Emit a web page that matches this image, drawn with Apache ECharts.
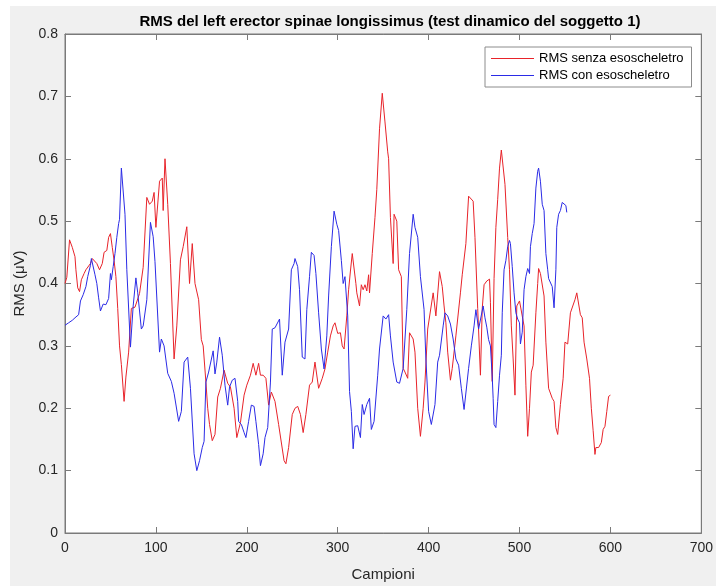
<!DOCTYPE html>
<html>
<head>
<meta charset="utf-8">
<script src="https://cdn.jsdelivr.net/npm/echarts@6/dist/echarts.min.js"></script>
<style>
html, body { margin: 0; padding: 0; background: #fff; }
#chart { width: 716px; height: 587px; }
</style>
</head>
<body>
<div id="chart"></div>
<script>
// campioni / valori RMS
var redIdx = [0, 2, 5, 8, 11, 12, 14, 16, 18, 21, 23, 25, 28, 30, 32, 35, 38, 41, 43, 46, 48, 50, 52, 54, 56, 58, 60, 62, 65, 67, 70, 73, 77, 82, 86, 90, 93, 96, 98, 100,
    104, 107, 108, 110, 113, 116, 118, 120, 123, 127, 130, 134, 137, 140, 143, 147, 150, 152, 155, 157, 159, 162, 165, 168, 171, 175, 179, 182, 186, 189,
    193, 197, 200, 204, 207, 210, 213, 215, 218, 221, 222, 224, 227, 231, 235, 241, 243, 246, 250, 253, 256, 259, 262, 265, 269, 272, 275, 279, 283, 286,
    289, 292, 295, 297, 300, 303, 305, 307, 310, 312, 314, 316, 318, 320, 321, 324, 326, 328, 330, 332, 334, 335, 338, 341, 343, 346, 349, 352, 355, 356,
    358, 361, 362, 365, 367, 370, 372, 374, 377, 379, 381, 383, 385, 388, 391, 394, 396, 399, 401, 405, 408, 412, 415, 417, 419, 421, 424, 426, 430, 435,
    437, 439, 441, 444, 446, 449, 451, 454, 457, 459, 461, 464, 467, 468, 470, 472, 474, 476, 478, 480, 482, 484, 487, 489, 491, 493, 495, 497, 500, 502,
    505, 507, 509, 511, 513, 515, 518, 520, 521, 523, 525, 527, 529, 532, 533, 536, 538, 540, 542, 545, 548, 550, 553, 556, 558, 561, 563, 565, 567, 569,
    571, 574, 577, 579, 581, 583, 584, 587, 590, 592, 594, 596, 598, 600];
var redRms = [0.40, 0.41, 0.47, 0.458, 0.443, 0.422, 0.393, 0.387, 0.406, 0.416, 0.422, 0.422, 0.432, 0.44, 0.443, 0.432, 0.422, 0.432, 0.45, 0.453, 0.474, 0.48, 0.458, 0.437, 0.411, 0.36, 0.30, 0.27, 0.211, 0.25, 0.29, 0.36, 0.362, 0.384, 0.426, 0.538, 0.527, 0.532, 0.546, 0.49,
    0.564, 0.569, 0.517, 0.600, 0.527, 0.432, 0.432, 0.279, 0.332, 0.438, 0.459, 0.491, 0.40, 0.464, 0.40, 0.374, 0.31, 0.30, 0.242, 0.20, 0.174, 0.148, 0.158, 0.218, 0.232, 0.261, 0.24, 0.234, 0.20, 0.153,
    0.177, 0.221, 0.237, 0.253, 0.272, 0.253, 0.272, 0.253, 0.253, 0.248, 0.245, 0.205, 0.226, 0.211, 0.174, 0.116, 0.111, 0.137, 0.19, 0.20, 0.203, 0.19, 0.161, 0.19, 0.237, 0.242, 0.274, 0.232, 0.248, 0.263,
    0.29, 0.316, 0.332, 0.337, 0.32, 0.321, 0.30, 0.295, 0.348, 0.39, 0.42, 0.448, 0.448, 0.40, 0.385, 0.364, 0.398, 0.39, 0.398, 0.388, 0.414, 0.385, 0.448, 0.506, 0.551, 0.648, 0.705, 0.659, 0.611, 0.60,
    0.506, 0.432, 0.511, 0.50, 0.422, 0.411, 0.264, 0.258, 0.248, 0.321, 0.324, 0.311, 0.29, 0.20, 0.155, 0.20, 0.242, 0.327, 0.327, 0.385, 0.348, 0.419, 0.395, 0.364, 0.337, 0.29, 0.245, 0.264, 0.316, 0.385,
    0.414, 0.417, 0.464, 0.54, 0.543, 0.532, 0.474, 0.36, 0.253, 0.36, 0.398, 0.404, 0.407, 0.37, 0.243, 0.408, 0.49, 0.535, 0.585, 0.614, 0.611, 0.559, 0.474, 0.422, 0.332, 0.279, 0.221, 0.364, 0.372, 0.369,
    0.332, 0.237, 0.155, 0.20, 0.258, 0.269, 0.353, 0.40, 0.424, 0.416, 0.419, 0.38, 0.306, 0.232, 0.235, 0.216, 0.211, 0.169, 0.158, 0.206, 0.248, 0.306, 0.303, 0.353, 0.356, 0.374, 0.385, 0.387, 0.35, 0.345,
    0.306, 0.279, 0.248, 0.20, 0.164, 0.126, 0.137, 0.137, 0.145, 0.166, 0.171, 0.195, 0.219, 0.221];

var blueIdx = [0, 4, 8, 11, 13, 15, 17, 20, 21, 23, 25, 28, 29, 31, 33, 35, 37, 39, 40, 42, 45, 48, 50, 51, 53, 55, 57, 59, 60, 62, 66, 68, 72, 75, 78, 80, 84, 86, 90, 94,
    97, 99, 101, 104, 106, 109, 113, 117, 120, 125, 128, 131, 135, 138, 142, 145, 148, 151, 153, 155, 158, 160, 163, 165, 167, 170, 173, 176, 179, 181,
    184, 187, 190, 191, 194, 197, 199, 202, 205, 208, 210, 213, 215, 218, 220, 223, 226, 228, 231, 233, 236, 239, 242, 244, 246, 249, 252, 253, 256, 258,
    261, 264, 266, 269, 271, 274, 276, 279, 282, 285, 288, 290, 293, 296, 299, 301, 304, 306, 308, 311, 313, 315, 317, 319, 322, 325, 327, 329, 332, 335,
    337, 340, 344, 346, 350, 353, 356, 358, 361, 365, 368, 372, 376, 379, 383, 385, 388, 391, 395, 397, 400, 403, 407, 410, 412, 416, 418, 421, 424, 427,
    430, 433, 436, 439, 441, 444, 447, 450, 452, 455, 457, 460, 462, 464, 466, 468, 470, 471, 472, 474, 476, 478, 480, 481, 483, 485, 487, 489, 490, 492,
    494, 496, 498, 500, 501, 503, 505, 507, 509, 511, 512, 514, 516, 518, 520, 521, 523, 525, 527, 529, 531, 532, 534, 536, 538, 540, 541, 543, 545, 547,
    549, 551, 552];
var blueRms = [0.333, 0.337, 0.341, 0.345, 0.343, 0.35, 0.372, 0.382, 0.379, 0.395, 0.411, 0.429, 0.44, 0.437, 0.414, 0.40, 0.377, 0.356, 0.355, 0.367, 0.366, 0.376, 0.416, 0.406, 0.427, 0.448, 0.474, 0.496, 0.503, 0.585, 0.511, 0.422, 0.298, 0.364, 0.409, 0.385, 0.327, 0.332, 0.374, 0.498,
    0.475, 0.435, 0.438, 0.29, 0.311, 0.30, 0.256, 0.243, 0.224, 0.179, 0.195, 0.274, 0.282, 0.232, 0.127, 0.10, 0.116, 0.137, 0.147, 0.242, 0.258, 0.261, 0.292, 0.255, 0.274, 0.314, 0.285, 0.237, 0.205, 0.234,
    0.245, 0.248, 0.211, 0.179, 0.174, 0.161, 0.153, 0.179, 0.205, 0.203, 0.179, 0.142, 0.108, 0.127, 0.153, 0.169, 0.242, 0.327, 0.329, 0.327, 0.343, 0.253, 0.306, 0.308, 0.327, 0.422, 0.432, 0.44, 0.427, 0.39,
    0.282, 0.279, 0.358, 0.411, 0.45, 0.445, 0.416, 0.353, 0.295, 0.263, 0.316, 0.38, 0.459, 0.516, 0.495, 0.485, 0.437, 0.40, 0.411, 0.348, 0.227, 0.195, 0.135, 0.171, 0.172, 0.153, 0.206, 0.19, 0.206, 0.216,
    0.166, 0.179, 0.253, 0.295, 0.348, 0.343, 0.35, 0.316, 0.274, 0.242, 0.24, 0.264, 0.358, 0.448, 0.511, 0.49, 0.474, 0.411, 0.358, 0.279, 0.195, 0.174, 0.206, 0.274, 0.285, 0.332, 0.353, 0.348, 0.335, 0.311,
    0.279, 0.269, 0.232, 0.198, 0.198, 0.264, 0.30, 0.332, 0.358, 0.327, 0.324, 0.364, 0.345, 0.33, 0.31, 0.30, 0.25, 0.216, 0.174, 0.169, 0.211, 0.253, 0.285, 0.353, 0.422, 0.437, 0.459, 0.469, 0.464, 0.427,
    0.385, 0.353, 0.343, 0.337, 0.303, 0.322, 0.39, 0.411, 0.424, 0.416, 0.459, 0.48, 0.496, 0.553, 0.58, 0.585, 0.564, 0.527, 0.517, 0.448, 0.422, 0.408, 0.406, 0.395, 0.361, 0.422, 0.49, 0.511, 0.517, 0.53,
    0.532, 0.525, 0.514];

var xTicks = [0, 100, 200, 300, 400, 500, 600, 700];
var yTicks = [0, 0.1, 0.2, 0.3, 0.4, 0.5, 0.6, 0.7, 0.8];

function zip(xs, ys) {
    return xs.map(function (x, i) { return [x, ys[i]]; });
}

var font = 'Liberation Sans, Arial, Helvetica, sans-serif';
var axisCol = '#7a7a7a';
var redCol = '#e8232a';
var blueCol = '#2b2be6';

var myChart = echarts.init(document.getElementById('chart'));
var option = {
    animation: false,
    graphic: [{
        type: 'rect',
        z: -10,
        shape: { x: 10, y: 6, width: 706, height: 580 },
        style: { fill: '#f0f0f0' }
    }],
    title: {
        text: 'RMS del left erector spinae longissimus (test dinamico del soggetto 1)',
        left: 385,
        top: 9,
        textAlign: 'center',
        textStyle: { fontFamily: font, fontSize: 15, fontWeight: 'bold', color: '#000' }
    },
    legend: {
        orient: 'vertical',
        left: 485,
        top: 47,
        padding: [5, 8, 5, 6],
        itemGap: 4,
        itemWidth: 43,
        itemHeight: 1,
        icon: 'rect',
        backgroundColor: '#fff',
        borderColor: '#8c8c8c',
        borderWidth: 1,
        borderRadius: 0,
        textStyle: { fontFamily: font, fontSize: 13, lineHeight: 13, color: '#000' },
        data: [
            { name: 'RMS senza esoscheletro', itemStyle: { color: redCol } },
            { name: 'RMS con esoscheletro', itemStyle: { color: blueCol } }
        ]
    },
    grid: {
        left: 65,
        top: 34,
        width: 640,
        height: 506,
        show: true,
        backgroundColor: '#fff',
        borderColor: axisCol,
        borderWidth: 1
    },
    xAxis: [{
        type: 'value',
        min: 0,
        max: 700,
        interval: 100,
        name: 'Campioni',
        nameLocation: 'middle',
        nameGap: 34,
        nameTextStyle: { fontFamily: font, fontSize: 15, color: '#262626' },
        axisLine: { show: true, onZero: false, lineStyle: { color: axisCol } },
        axisTick: { show: true, inside: true, length: 6, lineStyle: { color: axisCol } },
        axisLabel: {
            fontFamily: font, fontSize: 14, color: '#262626', margin: 8,
            formatter: function (v) { return xTicks.indexOf(v) >= 0 ? String(v) : ''; }
        },
        splitLine: { show: false }
    }, {
        type: 'value',
        position: 'top',
        min: 0,
        max: 700,
        interval: 100,
        axisLine: { show: true, onZero: false, lineStyle: { color: axisCol } },
        axisTick: { show: true, inside: true, length: 6, lineStyle: { color: axisCol } },
        axisLabel: { show: false },
        splitLine: { show: false }
    }],
    yAxis: [{
        type: 'value',
        min: 0,
        max: 0.8,
        interval: 0.1,
        name: 'RMS (μV)',
        nameLocation: 'middle',
        nameGap: 30,
        nameTextStyle: { fontFamily: font, fontSize: 15, color: '#262626' },
        axisLine: { show: true, onZero: false, lineStyle: { color: axisCol } },
        axisTick: { show: true, inside: true, length: 6, lineStyle: { color: axisCol } },
        axisLabel: {
            fontFamily: font, fontSize: 14, color: '#262626', margin: 7,
            formatter: function (v) {
                var r = Math.round(v * 10) / 10;
                return yTicks.indexOf(r) >= 0 ? (r === 0 ? '0' : r.toFixed(1)) : '';
            }
        },
        splitLine: { show: false }
    }, {
        type: 'value',
        position: 'right',
        min: 0,
        max: 0.8,
        interval: 0.1,
        axisLine: { show: true, onZero: false, lineStyle: { color: axisCol } },
        axisTick: { show: true, inside: true, length: 6, lineStyle: { color: axisCol } },
        axisLabel: { show: false },
        splitLine: { show: false }
    }],
    series: [{
        name: 'RMS senza esoscheletro',
        type: 'line',
        symbol: 'none',
        lineStyle: { color: redCol, width: 1 },
        itemStyle: { color: redCol },
        data: zip(redIdx, redRms)
    }, {
        name: 'RMS con esoscheletro',
        type: 'line',
        symbol: 'none',
        lineStyle: { color: blueCol, width: 1 },
        itemStyle: { color: blueCol },
        data: zip(blueIdx, blueRms)
    }]
};
myChart.setOption(option);
</script>
</body>
</html>
